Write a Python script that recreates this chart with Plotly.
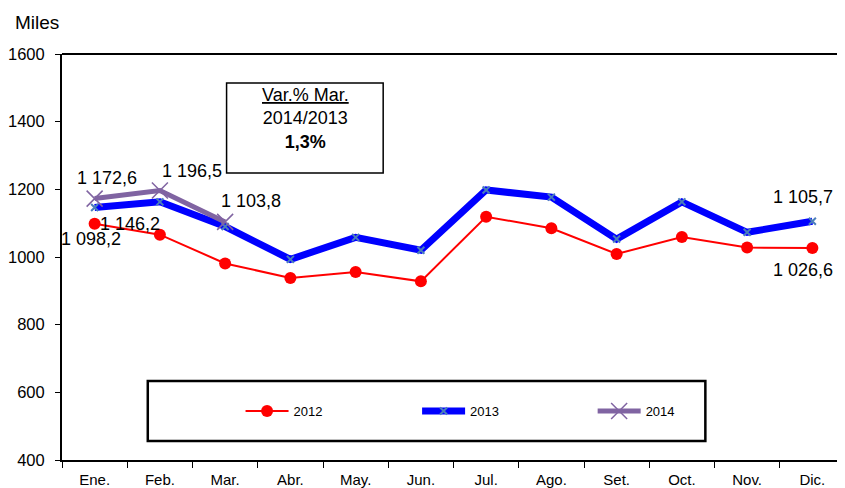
import plotly.graph_objects as go

months = ["Ene.", "Feb.", "Mar.", "Abr.", "May.", "Jun.", "Jul.", "Ago.", "Set.", "Oct.", "Nov.", "Dic."]
v2012 = [1098.2, 1066, 981, 938, 956, 928, 1119, 1085, 1009, 1059, 1028, 1026.6]
v2013 = [1146.2, 1163, 1090, 993, 1058, 1020, 1198, 1177, 1053, 1163, 1073, 1105.7]
v2014 = [1172.6, 1196.5, 1103.8]
y_ticks = [400, 600, 800, 1000, 1200, 1400, 1600]


def fmt(v):
    s = f"{v:,.1f}"
    return s.replace(",", " ").replace(".", ",")


FONT = "Liberation Sans, Arial, sans-serif"
PW = 785.0  # plot width px
PH = 406.0  # plot height px

fig = go.Figure()
fig.add_trace(go.Scatter(
    x=months, y=v2012, name="2012", mode="lines+markers", legend="legend",
    line=dict(color="#FF0000", width=2),
    marker=dict(symbol="circle", size=12, color="#FF0000"),
))
fig.add_trace(go.Scatter(
    x=months, y=v2013, name="2013", mode="lines+markers", legend="legend2",
    line=dict(color="#0000FF", width=7),
    marker=dict(symbol="x-thin", size=7, color="#4A7EBB", line=dict(color="#4A7EBB", width=2)),
))
fig.add_trace(go.Scatter(
    x=months[:len(v2014)], y=v2014, name="2014", mode="lines+markers", legend="legend3",
    line=dict(color="#8064A2", width=5),
    marker=dict(symbol="x-thin", size=16, color="#8064A2", line=dict(color="#8064A2", width=1.5)),
))

# data labels
labels = [
    (months[0], v2014[0], 12, 21),
    (months[1], v2014[1], 32, 20),
    (months[2], v2014[2], 26, 21),
    (months[0], v2013[0], 35, -16),
    (months[0], v2012[0], -4, -15),
    (months[11], v2013[11], -9, 24),
    (months[11], v2012[11], -9, -22),
]
for x, y, xs, ys in labels:
    fig.add_annotation(x=x, y=y, text=fmt(y), showarrow=False, xshift=xs, yshift=ys,
                       xanchor="center", yanchor="middle",
                       font=dict(size=18, color="#000000", family=FONT))

# variation box
fig.add_shape(type="rect", xref="paper", yref="paper", x0=(225 - 60) / PW, x1=(382 - 60) / PW,
              y0=(460 - 173) / PH, y1=(460 - 83) / PH,
              line=dict(color="#000000", width=1.5), fillcolor="white", layer="below")
fig.add_annotation(xref="paper", yref="paper", x=(304 - 60) / PW, y=(460 - 119) / PH,
                   xanchor="center", yanchor="middle",
                   text="<u>Var.% Mar.</u><br>2014/2013<br><b>1,3%</b>",
                   showarrow=False, align="center",
                   font=dict(size=18, color="#000000", family=FONT))

# legend box
fig.add_shape(type="rect", xref="paper", yref="paper", x0=(146 - 60) / PW, x1=(705 - 60) / PW,
              y0=(460 - 441) / PH, y1=(460 - 381) / PH,
              line=dict(color="#000000", width=2.5), fillcolor="white", layer="below")

# top border
fig.add_shape(type="line", xref="paper", yref="paper", x0=0, x1=1, y0=1, y1=1,
              line=dict(color="#000000", width=2))

fig.add_annotation(xref="paper", yref="paper", x=(11 - 60) / PW, y=(460 - 22) / PH,
                   xanchor="left", yanchor="middle",
                   text="Miles", showarrow=False, font=dict(size=19, color="#000000", family=FONT))

leg_common = dict(orientation="h", yanchor="middle", xanchor="left", y=(460 - 411) / PH,
                  bgcolor="rgba(0,0,0,0)", borderwidth=0, itemwidth=43,
                  font=dict(size=13, family=FONT, color="#000000"))

fig.update_layout(
    width=837, height=480,
    margin=dict(l=52, r=0, t=46, b=20),
    paper_bgcolor="white", plot_bgcolor="white",
    font=dict(family=FONT, color="#000000"),
    showlegend=True,
    legend=dict(x=(239 - 60) / PW, **leg_common),
    legend2=dict(x=(416 - 60) / PW, **leg_common),
    legend3=dict(x=(592 - 60) / PW, **leg_common),
    xaxis=dict(type="category", showgrid=False, showline=True, linecolor="#000000", linewidth=2,
               ticks="outside", tickson="boundaries", ticklen=6, tickcolor="#000000", tickwidth=1,
               ticklabelstandoff=5,
               tickfont=dict(size=15, family=FONT, color="#000000"), range=[-0.5, 11.5]),
    yaxis=dict(range=[400, 1600], tickvals=y_ticks, showgrid=False, showline=True, linecolor="#000000",
               linewidth=2, ticks="outside", ticklen=5, tickcolor="#000000", zeroline=False,
               ticklabelstandoff=7,
               tickfont=dict(size=16.5, family=FONT, color="#000000")),
)

fig.write_html("out.html")
